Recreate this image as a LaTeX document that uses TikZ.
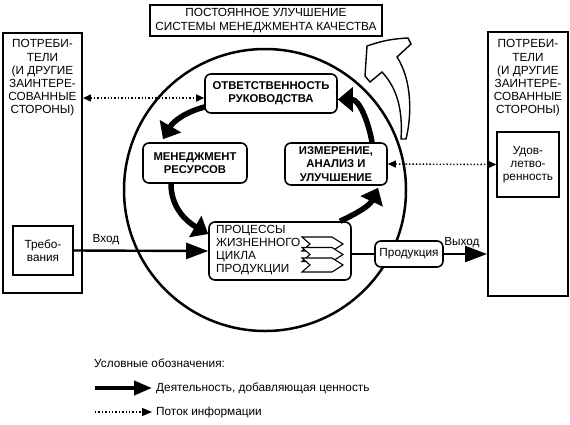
\documentclass[tikz,border=0pt]{standalone}
\usepackage{fontspec}
\setmainfont{Liberation Sans}
\usetikzlibrary{arrows.meta}

\begin{document}
\begin{tikzpicture}[x=1pt,y=1pt,
  bigbox/.style={draw, line width=1.9pt, minimum width=79pt, minimum height=260pt},
  box/.style={draw, line width=1.4pt, fill=white, align=center},
  rbox/.style={draw, line width=1.6pt, rounded corners=6pt, fill=white, align=center},
  boldtext/.style={font=\fontsize{11.3}{13.2}\selectfont\bfseries},
  info/.style={dotted, line width=1.4pt, {Triangle[length=8pt,width=7pt]}-{Triangle[length=8pt,width=7pt]}},
  flow/.style={line width=2.4pt, -{Triangle[length=22pt,width=16pt]}},
  valarrow/.style={line width=5.5pt, -{Triangle[length=15pt,width=24pt]}}]
\tikzstyle{every node}+=[inner sep=0pt, font=\fontsize{11.8}{13.2}\selectfont]
\useasboundingbox (0,0) rectangle (570,-424);
\node[bigbox] (lcons) at (42.5,-163) {};
\node[align=center] (ltitle) at (42.5,-78) {ПОТРЕБИ-\\ТЕЛИ\\(И ДРУГИЕ\\ЗАИНТЕРЕ-\\СОВАННЫЕ\\СТОРОНЫ)};
\node[box, minimum width=60pt, minimum height=49pt] (treb) at (43,-250.5) {Требо-\\вания};
\node[bigbox, minimum width=80pt, minimum height=264pt] (rcons) at (528,-164) {};
\node[align=center] (rtitle) at (528,-78) {ПОТРЕБИ-\\ТЕЛИ\\(И ДРУГИЕ\\ЗАИНТЕРЕ-\\СОВАННЫЕ\\СТОРОНЫ)};
\node[box, minimum width=62pt, minimum height=65pt] (udov) at (528,-164.5) {Удов-\\летво-\\ренность};
\node[box, line width=1.6pt, minimum width=232pt, minimum height=31pt] (goal) at (266,-20.5) {ПОСТОЯННОЕ УЛУЧШЕНИЕ\\СИСТЕМЫ МЕНЕДЖМЕНТА КАЧЕСТВА};
\node[circle, draw, line width=2.5pt, minimum size=282pt] (qms) at (265,-190) {};
\draw[line width=1.4pt, fill=white] (367,-46) to[bend left=8] (408,-38) -- (411,-44) -- (397,-57)
  .. controls (412,-80) and (412,-115) .. (406,-139) -- (401,-139)
  .. controls (403,-110) and (397,-88) .. (382,-72) -- (370,-82) -- (365,-76) -- cycle;
\node[rbox, boldtext, minimum width=132pt, minimum height=39pt] (resp) at (271,-93.5) {ОТВЕТСТВЕННОСТЬ\\РУКОВОДСТВА};
\node[rbox, boldtext, minimum width=104pt, minimum height=40pt] (res) at (195,-163) {МЕНЕДЖМЕНТ\\РЕСУРСОВ};
\node[rbox, boldtext, minimum width=102pt, minimum height=42pt] (meas) at (336,-164) {ИЗМЕРЕНИЕ,\\АНАЛИЗ И\\УЛУЧШЕНИЕ};
\node[rbox, minimum width=142pt, minimum height=58pt] (proc) at (280,-251) {};
\node[anchor=west, align=left] (proctext) at (216,-250) {ПРОЦЕССЫ\\ЖИЗНЕННОГО\\ЦИКЛА\\ПРОДУКЦИИ};
\foreach \dy in {0,10.5,21}
  \draw[line width=1.1pt, fill=white] (302,-237-\dy) -- (332,-237-\dy) -- (343,-244-\dy) -- (332,-251-\dy) -- (302,-251-\dy) -- (310,-244-\dy) -- cycle;
\node[rbox, minimum width=68pt, minimum height=26pt] (prod) at (409,-254) {Продукция};
\coordinate (respin) at ([yshift=-4.5pt]resp.west);
\draw[info] (lcons.east |- respin) -- (respin);
\draw[info] (meas.east) -- (udov.west);
\draw[flow] (treb.east) -- node[pos=0.24, above=5pt] {Вход} (proc.west);
\draw[line width=2.4pt] (prod.west -| proc.east) -- (prod.west);
\draw[flow] (prod.east) -- node[pos=0.42, above=5pt] {Выход} (rcons.west |- prod.east);
\draw[valarrow] ([xshift=1pt,yshift=7pt]resp.south west) to[out=195,in=60] ([xshift=-32pt,yshift=3pt]res.north);
\draw[valarrow] ([xshift=-24pt]res.south) to[out=-90,in=150] ([yshift=17pt]proc.west);
\draw[valarrow] ([xshift=60pt]proc.north) to[out=25,in=245] ([xshift=42pt,yshift=-2pt]meas.south);
\draw[valarrow] ([xshift=36pt]meas.north) to[out=100,in=0] ([yshift=-6pt]resp.east);
\node[anchor=west] (legend) at (94,-363) {Условные обозначения:};
\coordinate (vastart) at (95,-388);
\coordinate (vaend) at (152,-388);
\draw[line width=3.8pt, -{Triangle[length=18pt,width=14pt]}] (vastart) -- (vaend);
\node[anchor=west] (vatext) at (156,-388) {Деятельность, добавляющая ценность};
\coordinate (infstart) at (95,-412);
\coordinate (infend) at (152,-412);
\draw[dotted, line width=1.4pt, -{Triangle[length=10pt,width=8pt]}] (infstart) -- (infend);
\node[anchor=west] (inftext) at (156,-412) {Поток информации};
\end{tikzpicture}
\end{document}
